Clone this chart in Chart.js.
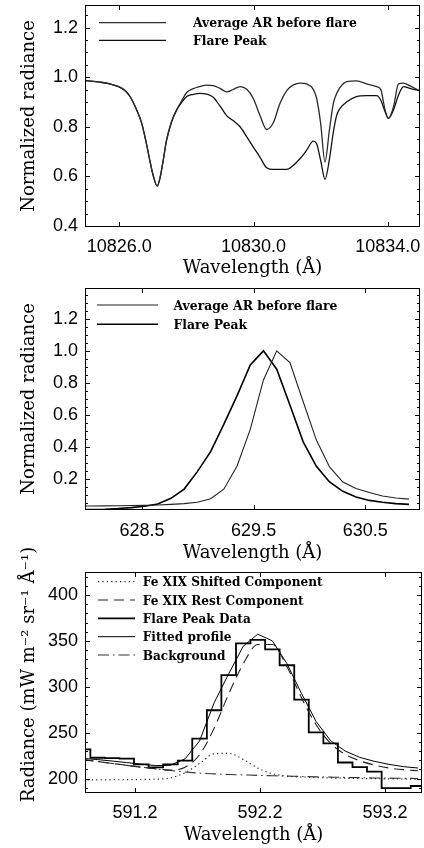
<!DOCTYPE html>
<html>
<head>
<meta charset="utf-8">
<script src="https://cdn.jsdelivr.net/npm/chart.js@4.4.1/dist/chart.umd.min.js"></script>
<style>
  html, body { margin: 0; padding: 0; background: #fff; }
  #wrap { position: relative; width: 424px; height: 848px; }
  #wrap canvas { position: absolute; left: 0; top: 0; }
</style>
</head>
<body>
<div id="wrap">
  <canvas id="heChart" width="424" height="848"></canvas>
  <canvas id="oChart" width="424" height="848"></canvas>
  <canvas id="feChart" width="424" height="848"></canvas>
</div>
<script>
// ---------- panel 1 : He I 10830 ----------
var heWave = [10825.01, 10825.42, 10825.72, 10826.00, 10826.17, 10826.32, 10826.52, 10826.67, 10826.81, 10826.91,
  10827.01, 10827.13, 10827.21, 10827.31, 10827.41, 10827.56, 10827.71, 10827.86, 10828.01, 10828.21,
  10828.40, 10828.60, 10828.80, 10829.00, 10829.20, 10829.40, 10829.60, 10829.80, 10829.99, 10830.19,
  10830.39, 10830.59, 10830.79, 10830.99, 10831.19, 10831.39, 10831.58, 10831.78, 10831.88, 10832.00,
  10832.13, 10832.26, 10832.38, 10832.48, 10832.58, 10832.78, 10833.07, 10833.37, 10833.67, 10833.79,
  10833.92, 10834.02, 10834.17, 10834.32, 10834.47, 10834.66, 10834.94];
var heArBefore = [0.986, 0.980, 0.973, 0.961, 0.946, 0.922, 0.868, 0.814, 0.732, 0.665,
  0.604, 0.561, 0.591, 0.665, 0.746, 0.820, 0.868, 0.905, 0.938, 0.954,
  0.962, 0.968, 0.966, 0.955, 0.941, 0.951, 0.962, 0.951, 0.915, 0.847,
  0.789, 0.816, 0.895, 0.946, 0.969, 0.976, 0.973, 0.951, 0.915, 0.814,
  0.658, 0.786, 0.895, 0.935, 0.959, 0.982, 0.985, 0.973, 0.962, 0.951,
  0.868, 0.834, 0.881, 0.973, 0.976, 0.965, 0.946];
var heFlarePeak = [0.986, 0.980, 0.973, 0.961, 0.946, 0.922, 0.868, 0.814, 0.732, 0.665,
  0.604, 0.561, 0.591, 0.665, 0.746, 0.820, 0.868, 0.898, 0.922, 0.931,
  0.935, 0.932, 0.919, 0.884, 0.845, 0.824, 0.800, 0.759, 0.719, 0.678,
  0.635, 0.628, 0.628, 0.628, 0.645, 0.672, 0.705, 0.742, 0.732, 0.665,
  0.588, 0.668, 0.780, 0.847, 0.874, 0.901, 0.922, 0.926, 0.926, 0.908,
  0.861, 0.834, 0.868, 0.928, 0.962, 0.955, 0.946];
var heXTicks = [10826, 10830, 10834];
var heYTicks = [0.4, 0.6, 0.8, 1.0, 1.2];

// ---------- panel 2 : O V 629.7 ----------
var oWave = [627.931, 628.049, 628.168, 628.286, 628.404, 628.523, 628.641, 628.760, 628.878, 628.996,
  629.115, 629.233, 629.352, 629.470, 629.588, 629.707, 629.825, 629.944, 630.062, 630.180,
  630.299, 630.417, 630.536, 630.654, 630.773, 630.891];
var oArBefore = [0.030, 0.030, 0.031, 0.032, 0.033, 0.034, 0.036, 0.040, 0.045, 0.053,
  0.075, 0.135, 0.280, 0.509, 0.818, 1.000, 0.927, 0.682, 0.442, 0.274,
  0.180, 0.139, 0.114, 0.092, 0.080, 0.073];
var oFlarePeak = [0.007, 0.008, 0.010, 0.014, 0.020, 0.028, 0.042, 0.078, 0.136, 0.245,
  0.370, 0.540, 0.720, 0.912, 1.000, 0.885, 0.661, 0.431, 0.278, 0.180,
  0.122, 0.086, 0.065, 0.053, 0.045, 0.040];
var oXTicks = [628.5, 629.5, 630.5];
var oYTicks = [0.2, 0.4, 0.6, 0.8, 1.0, 1.2];

// ---------- panel 3 : Fe XIX 592.2 ----------
var feBinEdges = [590.726, 590.843, 590.959, 591.076, 591.192, 591.309, 591.425, 591.542, 591.658, 591.775,
  591.891, 592.008, 592.124, 592.241, 592.357, 592.474, 592.590, 592.707, 592.823, 592.940,
  593.056, 593.173, 593.289, 593.406, 593.522];
var feFlareData = [232.0, 222.8, 222.3, 221.8, 215.6, 212.2, 215.6, 219.6, 243.5, 274.5,
  312.8, 347.3, 351.0, 340.7, 323.5, 286.0, 250.4, 238.5, 217.6, 212.5,
  207.7, 189.6, 189.6, 192.0];
var feBinCentres = [590.784, 590.901, 591.017, 591.134, 591.250, 591.367, 591.483, 591.600, 591.716, 591.833,
  591.949, 592.066, 592.182, 592.299, 592.415, 592.532, 592.648, 592.765, 592.881, 592.998,
  593.114, 593.231, 593.347, 593.464];
var feFitted = [222.0, 220.8, 219.2, 217.5, 215.8, 214.2, 214.6, 221.5, 241.0, 282.6,
  314.1, 344.2, 357.3, 350.0, 325.4, 292.8, 262.4, 241.3, 230.1, 223.2,
  218.9, 215.6, 213.1, 211.6];
var feRest = [220.8, 218.7, 216.6, 214.5, 212.5, 210.7, 209.4, 212.5, 226.0, 255.0,
  292.0, 325.0, 346.0, 346.0, 322.0, 288.0, 259.0, 238.5, 226.5, 219.5,
  214.8, 211.6, 209.8, 208.7];
var feShifted = [198.6, 198.7, 198.8, 198.9, 199.1, 199.5, 200.8, 206.5, 216.5, 227.0,
  227.5, 221.0, 211.5, 205.5, 202.8, 201.8, 201.2, 200.8, 200.5, 200.2,
  200.0, 199.8, 199.6, 199.5];
var feBackground = [220.8, 218.7, 216.6, 214.5, 212.5, 210.6, 208.9, 207.3, 206.0, 205.2,
  204.6, 204.1, 203.6, 203.2, 202.8, 202.4, 202.0, 201.7, 201.4, 201.1,
  200.8, 200.6, 200.4, 200.2];
var feXTicks = [591.2, 592.2, 593.2];
var feYTicks = [200, 250, 300, 350, 400];

// ---------- helpers ----------
function pts(xs, ys) {
  return xs.map(function (x, i) { return { x: x, y: ys[i] }; });
}

// histogram: left edges carry the bin value, last edge closes the last bin
function histPts(edges, vals) {
  return edges.map(function (x, i) { return { x: x, y: vals[Math.min(i, vals.length - 1)] }; });
}

// box round the plot with inward ticks (IDL style)
var frameTicks = {
  id: 'frameTicks',
  afterDraw: function (chart, args, o) {
    var ctx = chart.ctx, a = chart.chartArea, sx = chart.scales.x, sy = chart.scales.y;
    ctx.save();
    ctx.strokeStyle = '#000';
    ctx.lineWidth = 1;
    ctx.strokeRect(a.left + 0.5, a.top + 0.5, a.right - a.left - 1, a.bottom - a.top - 1);
    ctx.beginPath();
    sx.ticks.forEach(function (t) {
      var px = Math.round(sx.getPixelForValue(t.value)) + 0.5;
      ctx.moveTo(px, a.bottom); ctx.lineTo(px, a.bottom - o.major);
      ctx.moveTo(px, a.top); ctx.lineTo(px, a.top + o.major);
    });
    sy.ticks.forEach(function (t) {
      var py = Math.round(sy.getPixelForValue(t.value)) + 0.5;
      ctx.moveTo(a.left, py); ctx.lineTo(a.left + o.major, py);
      ctx.moveTo(a.right, py); ctx.lineTo(a.right - o.major, py);
    });
    if (o.yMinor) {
      var start = Math.ceil(sy.min / o.yMinor - 1e-6);
      for (var k = start; k * o.yMinor <= sy.max + 1e-9; k++) {
        var py = Math.round(sy.getPixelForValue(k * o.yMinor)) + 0.5;
        ctx.moveTo(a.left, py); ctx.lineTo(a.left + o.minor, py);
        ctx.moveTo(a.right, py); ctx.lineTo(a.right - o.minor, py);
      }
    }
    ctx.stroke();
    ctx.restore();
  }
};

// legend drawn inside the plot box; the font is sized so the first label spans o.width px
var insideLegend = {
  id: 'insideLegend',
  afterDraw: function (chart, args, o) {
    var ctx = chart.ctx, sets = chart.data.datasets;
    ctx.save();
    ctx.font = "bold 12px 'DejaVu Serif', serif";
    var size = 12 * o.width / ctx.measureText(sets[0].label).width;
    ctx.font = 'bold ' + size.toFixed(2) + "px 'DejaVu Serif', serif";
    ctx.fillStyle = '#000';
    ctx.textBaseline = 'middle';
    o.rows.forEach(function (y, i) {
      var ds = sets[i];
      ctx.beginPath();
      ctx.setLineDash(ds.borderDash || []);
      ctx.lineWidth = ds.borderWidth;
      ctx.strokeStyle = ds.borderColor;
      ctx.moveTo(o.x0, y);
      ctx.lineTo(o.x1, y);
      ctx.stroke();
      ctx.setLineDash([]);
      ctx.fillText(ds.label, o.tx, y + o.dy);
    });
    ctx.restore();
  }
};

// rotated y title, not squeezed to the axis height
var sideTitle = {
  id: 'sideTitle',
  afterDraw: function (chart, args, o) {
    var ctx = chart.ctx, a = chart.chartArea;
    ctx.save();
    ctx.translate(o.x, (a.top + a.bottom) / 2 + (o.shift || 0));
    ctx.rotate(-Math.PI / 2);
    ctx.font = o.font;
    ctx.fillStyle = '#000';
    ctx.textAlign = 'center';
    ctx.textBaseline = 'middle';
    ctx.fillText(o.text, 0, 0);
    ctx.restore();
  }
};

var tickFont = { family: "'Liberation Sans', Arial, sans-serif", size: 18 };
var titleFont = { family: "'DejaVu Serif', serif", size: 18, lineHeight: 1 };

function makePanel(id, p) {
  return new Chart(document.getElementById(id), {
    type: 'line',
    data: { datasets: p.datasets },
    options: {
      responsive: false,
      animation: false,
      devicePixelRatio: 1,
      layout: { padding: p.padding },
      elements: { point: { radius: 0 } },
      plugins: {
        legend: { display: false },
        tooltip: { enabled: false },
        frameTicks: { major: 5, minor: 3, yMinor: p.yMinor },
        insideLegend: p.legend,
        sideTitle: { text: p.yTitle, x: 29, font: "18px 'DejaVu Serif', serif", shift: p.yTitleShift || 0 }
      },
      scales: {
        x: {
          type: 'linear',
          min: p.xMin, max: p.xMax,
          grid: { display: false, drawTicks: false },
          border: { display: false },
          afterBuildTicks: function (s) { s.ticks = p.xTicks.map(function (v) { return { value: v }; }); },
          afterFit: function (s) { s.height = p.xAxisH; s.paddingLeft = 0; s.paddingRight = 0; },
          ticks: {
            font: tickFont, color: '#000', padding: p.xPad, maxRotation: 0, autoSkip: false,
            callback: function (v) { return Number(v).toFixed(1); }
          },
          title: { display: true, text: 'Wavelength (Å)', font: titleFont, color: '#000', padding: { top: 0, bottom: 0 } }
        },
        y: {
          type: 'linear',
          min: p.yMin, max: p.yMax,
          grid: { display: false, drawTicks: false },
          border: { display: false },
          afterBuildTicks: function (s) { s.ticks = p.yTicks.map(function (v) { return { value: v }; }); },
          afterFit: function (s) { s.width = 85; s.paddingTop = 0; s.paddingBottom = 0; },
          ticks: {
            font: tickFont, color: '#000', padding: 7, autoSkip: false,
            callback: function (v) { return Number(v).toFixed(p.yDec); }
          }
        }
      }
    },
    plugins: [frameTicks, insideLegend, sideTitle]
  });
}

// panel 1
makePanel('heChart', {
  padding: { top: 5, left: 0, right: 4, bottom: 570.4 },
  xAxisH: 50.6, xPad: 9,
  xMin: 10824.98, xMax: 10834.96, xTicks: heXTicks,
  yMin: 0.396, yMax: 1.291, yTicks: heYTicks, yDec: 1, yMinor: 0.05,
  yTitle: 'Normalized radiance',
  legend: { x0: 99, x1: 166, tx: 193, rows: [22.7, 40.3], dy: 1.5, width: 164 },
  datasets: [
    { label: 'Average AR before flare', data: pts(heWave, heArBefore), borderColor: '#2a2a2a', borderWidth: 1.3, cubicInterpolationMode: 'monotone' },
    { label: 'Flare Peak', data: pts(heWave, heFlarePeak), borderColor: '#111', borderWidth: 1.3, cubicInterpolationMode: 'monotone' }
  ]
});

// panel 2
makePanel('oChart', {
  padding: { top: 288, left: 0, right: 4, bottom: 285.4 },
  xAxisH: 52.6, xPad: 10,
  xMin: 627.99, xMax: 630.99, xTicks: oXTicks,
  yMin: 0.005, yMax: 1.393, yTicks: oYTicks, yDec: 1, yMinor: 0.05,
  yTitle: 'Normalized radiance',
  legend: { x0: 97, x1: 158, tx: 173.5, rows: [305, 324.3], dy: 1.5, width: 164 },
  datasets: [
    { label: 'Average AR before flare', data: pts(oWave, oArBefore), borderColor: '#222', borderWidth: 1.1 },
    { label: 'Flare Peak', data: pts(oWave, oFlarePeak), borderColor: '#000', borderWidth: 1.6 }
  ]
});

// panel 3
makePanel('feChart', {
  padding: { top: 572, left: 0, right: 2, bottom: 3.7 },
  xAxisH: 51.3, xPad: 9,
  xMin: 590.8, xMax: 593.496, xTicks: feXTicks,
  yMin: 184.4, yMax: 425, yTicks: feYTicks, yDec: 0, yMinor: 10,
  yTitle: 'Radiance (mW m⁻² sr⁻¹ Å⁻¹)', yTitleShift: -8,
  legend: { x0: 98, x1: 135, tx: 142.7, rows: [581.7, 600, 618.3, 636.7, 655], dy: 1.5, width: 180 },
  datasets: [
    { label: 'Fe XIX Shifted Component', data: pts(feBinCentres, feShifted), borderColor: '#222', borderWidth: 1.2, borderDash: [1.2, 3.2], cubicInterpolationMode: 'monotone' },
    { label: 'Fe XIX Rest Component', data: pts(feBinCentres, feRest), borderColor: '#222', borderWidth: 1.1, borderDash: [10, 6], cubicInterpolationMode: 'monotone' },
    { label: 'Flare Peak Data', data: histPts(feBinEdges, feFlareData), borderColor: '#000', borderWidth: 1.8, stepped: true },
    { label: 'Fitted profile', data: pts(feBinCentres, feFitted), borderColor: '#000', borderWidth: 1.0 },
    { label: 'Background', data: pts(feBinCentres, feBackground), borderColor: '#333', borderWidth: 1.1, borderDash: [11, 4, 1.5, 4], cubicInterpolationMode: 'monotone' }
  ]
});
</script>
</body>
</html>
